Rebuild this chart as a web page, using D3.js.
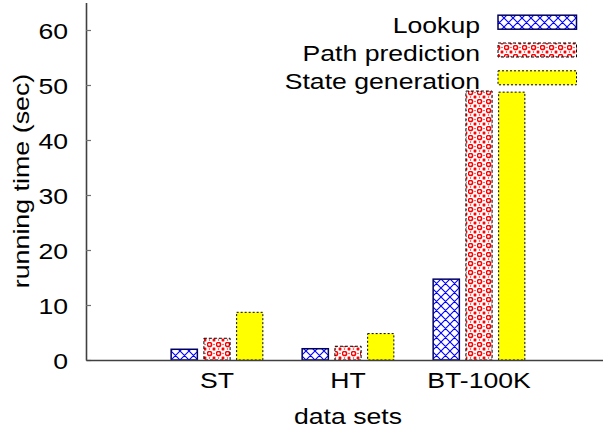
<!DOCTYPE html>
<html>
<head>
<meta charset="utf-8">
<script src="https://cdn.jsdelivr.net/npm/d3@7/dist/d3.min.js"></script>
<style>
  html, body { margin: 0; padding: 0; background: #fff; }
  svg { display: block; }
  text { font-family: "Liberation Sans", Arial, Helvetica, sans-serif; fill: #000; }
</style>
</head>
<body>
<svg id="chart" width="603" height="435"></svg>
<script>
const categories = ["ST", "HT", "BT-100K"];
const seriesNames = ["Lookup", "Path prediction", "State generation"];
const lookup = [1.95, 2.05, 14.7];
const pathPrediction = [3.95, 2.5, 48.9];
const stateGeneration = [8.67, 4.8, 48.7];
const seriesValues = [lookup, pathPrediction, stateGeneration];
const yTicks = [0, 10, 20, 30, 40, 50, 60];
const xTitle = "data sets";
const yTitle = "running time (sec)";

const svg = d3.select("#chart");
const FS = 22, SX = 1.21;

const x = d3.scaleLinear().domain([-1, 3]).range([86, 610]);
const y = d3.scaleLinear().domain([0, 65]).range([360, 2.5]);
const offset = d3.scaleBand().domain(seriesNames).range([-0.375, 0.375]);
const barW = x(offset.bandwidth() * 0.8) - x(0);

// patterns
const defs = svg.append("defs");
const p1 = defs.append("pattern").attr("id", "pLookup").attr("patternUnits", "userSpaceOnUse")
  .attr("width", 9).attr("height", 9);
p1.append("rect").attr("width", 9).attr("height", 9).attr("fill", "#fff");
p1.append("path").attr("d", "M0,0L9,9M9,0L0,9M-1,8L1,10M8,-1L10,1M-1,1L1,-1M8,10L10,8")
  .attr("stroke", "#0000ff").attr("stroke-width", 1.1).attr("fill", "none");
const p2 = defs.append("pattern").attr("id", "pPath").attr("patternUnits", "userSpaceOnUse")
  .attr("width", 9).attr("height", 9);
p2.append("rect").attr("width", 9).attr("height", 9).attr("fill", "#fff");
p2.append("circle").attr("cx", 2.5).attr("cy", 2.5).attr("r", 2.1)
  .attr("stroke", "#ff0000").attr("stroke-width", 1.5).attr("fill", "none");
p2.append("path").attr("d", "M5.8,5.8L8.2,8.2M8.2,5.8L5.8,8.2")
  .attr("stroke", "#ff0000").attr("stroke-width", 1.4).attr("fill", "none");
p2.append("rect").attr("x", 6.4).attr("y", 1.9).attr("width", 1.2).attr("height", 1.2).attr("fill", "#ff0000");
p2.append("rect").attr("x", 1.9).attr("y", 6.4).attr("width", 1.2).attr("height", 1.2).attr("fill", "#ff0000");

const styles = [
  { fill: "url(#pLookup)", stroke: "#000060", dash: null, sw: 1.5 },
  { fill: "url(#pPath)", stroke: "#000", dash: "3,2", sw: 1 },
  { fill: "#ffff00", stroke: "#000", dash: "2,2", sw: 1 }
];

// bars
seriesNames.forEach((name, si) => {
  svg.append("g").selectAll("rect")
    .data(seriesValues[si].map((v, i) => ({ v, i })))
    .join("rect")
    .attr("x", d => x(d.i + offset(name) + offset.bandwidth() * 0.1))
    .attr("y", d => y(d.v))
    .attr("width", barW)
    .attr("height", d => y(0) - y(d.v))
    .attr("fill", styles[si].fill)
    .attr("stroke", styles[si].stroke)
    .attr("stroke-width", styles[si].sw)
    .attr("stroke-dasharray", styles[si].dash);
});

// y axis
const yAxis = svg.append("g").attr("transform", `translate(${x(-1)},0)`)
  .call(d3.axisLeft(y).tickValues(yTicks).tickSizeInner(-5).tickSizeOuter(0).tickFormat(""));
yAxis.select(".domain").attr("stroke", "#404040").attr("stroke-width", 1.6);
yAxis.selectAll(".tick line").attr("stroke", "#707070").attr("stroke-width", 1.2);
svg.append("g").selectAll("text").data(yTicks).join("text")
  .attr("transform", d => `translate(68,${y(d) + 8.5}) scale(${SX},1)`)
  .attr("text-anchor", "end").attr("font-size", FS).text(d => d);

// x axis
const xAxis = svg.append("g").attr("transform", `translate(0,${y(0)})`)
  .call(d3.axisBottom(x).tickValues([]).tickSizeOuter(0));
xAxis.select(".domain").attr("stroke", "#404040").attr("stroke-width", 1.6);
svg.append("g").selectAll("text").data(categories).join("text")
  .attr("transform", (d, i) => `translate(${x(i)},388) scale(${SX},1)`)
  .attr("text-anchor", "middle").attr("font-size", FS).text(d => d);

// titles
svg.append("text").attr("transform", `translate(${x(1)},424) scale(${SX},1)`)
  .attr("text-anchor", "middle").attr("font-size", FS).text(xTitle);
svg.append("text").attr("transform", `translate(29,181) rotate(-90) scale(1.22,1)`)
  .attr("text-anchor", "middle").attr("font-size", FS).text(yTitle);

// legend
const legend = svg.append("g");
seriesNames.forEach((name, si) => {
  const cy = 22.2 + si * 27.8;
  legend.append("text").attr("transform", `translate(480,${cy + 10.8}) scale(${SX},1)`)
    .attr("text-anchor", "end").attr("font-size", FS).text(name);
  legend.append("rect").attr("x", 498).attr("y", cy - 7).attr("width", 78.5).attr("height", 14)
    .attr("fill", styles[si].fill).attr("stroke", styles[si].stroke)
    .attr("stroke-width", styles[si].sw).attr("stroke-dasharray", styles[si].dash);
});
</script>
</body>
</html>
